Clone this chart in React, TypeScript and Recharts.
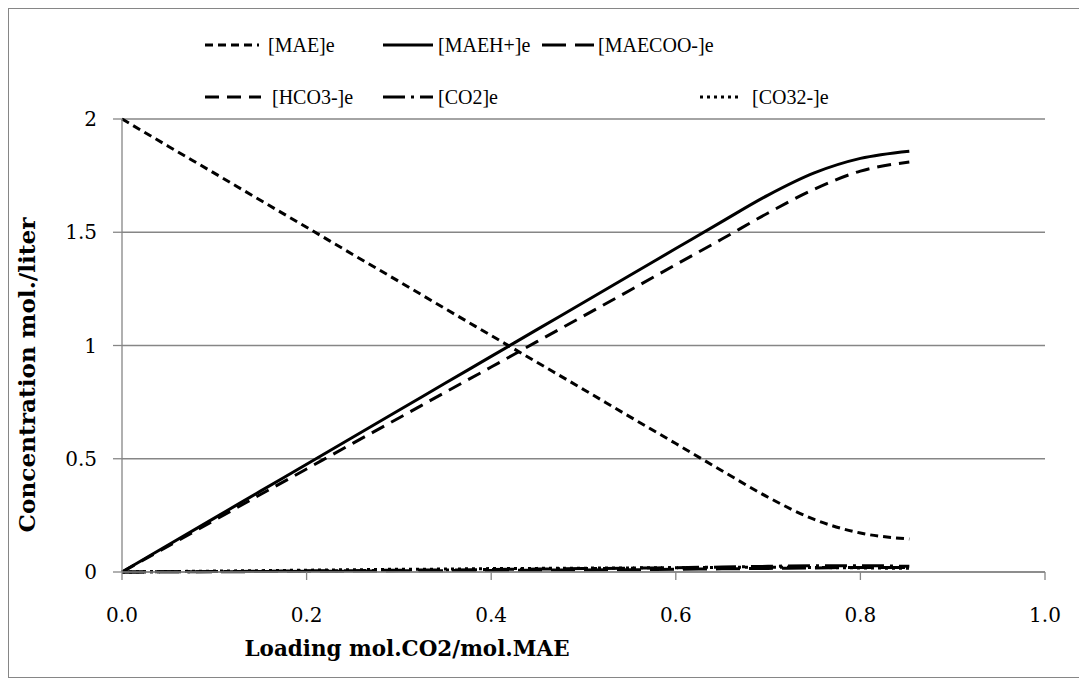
import React from 'react';
import { LineChart, Line, XAxis, YAxis, CartesianGrid } from 'recharts';

// Equilibrium speciation of a 2 M MAE solution versus CO2 loading
const loading = [0, 0.05, 0.1, 0.15, 0.2, 0.25, 0.3, 0.35, 0.4, 0.45, 0.5, 0.55, 0.6, 0.65, 0.7, 0.75, 0.8, 0.853];
const maeFree = [2, 1.88, 1.761, 1.641, 1.522, 1.402, 1.283, 1.163, 1.044, 0.925, 0.806, 0.686, 0.567, 0.447, 0.33, 0.232, 0.172, 0.146];
const maeH = [0, 0.119, 0.238, 0.357, 0.476, 0.595, 0.714, 0.833, 0.952, 1.071, 1.19, 1.309, 1.428, 1.547, 1.664, 1.762, 1.826, 1.858];
const maeCoo = [0, 0.001, 0.001, 0.002, 0.003, 0.004, 0.005, 0.006, 0.007, 0.008, 0.009, 0.01, 0.012, 0.014, 0.016, 0.018, 0.02, 0.02];
const hco3 = [0, 0.114, 0.228, 0.342, 0.455, 0.568, 0.68, 0.793, 0.905, 1.018, 1.13, 1.243, 1.357, 1.47, 1.585, 1.69, 1.77, 1.81];
const co2 = [0, 0.001, 0.002, 0.003, 0.005, 0.006, 0.008, 0.009, 0.011, 0.013, 0.015, 0.017, 0.019, 0.022, 0.025, 0.028, 0.028, 0.025];
const co3 = [0, 0.002, 0.004, 0.006, 0.008, 0.01, 0.012, 0.013, 0.015, 0.016, 0.017, 0.018, 0.019, 0.02, 0.021, 0.02, 0.018, 0.016];

const xTicks = [0, 0.2, 0.4, 0.6, 0.8, 1.0];
const yTicks = [0, 0.5, 1, 1.5, 2];

const data = loading.map((x, i) => ({
  x,
  mae: maeFree[i],
  maeh: maeH[i],
  maecoo: maeCoo[i],
  hco3: hco3[i],
  co2: co2[i],
  co3: co3[i],
}));

const FONT = '"DejaVu Serif", serif';
const LEGEND_FONT = '"Liberation Serif", serif';
const GREY = '#868686';

type SeriesDef = { key: string; name: string; dash?: string; width: number };

const series: SeriesDef[] = [
  { key: 'mae', name: '[MAE]e', dash: '8 5', width: 3 },
  { key: 'maeh', name: '[MAEH+]e', width: 3 },
  { key: 'maecoo', name: '[MAECOO-]e', dash: '24 9', width: 3 },
  { key: 'hco3', name: '[HCO3-]e', dash: '14 8', width: 3 },
  { key: 'co2', name: '[CO2]e', dash: '22 6 3 6', width: 3 },
  { key: 'co3', name: '[CO32-]e', dash: '3 4', width: 3 },
];

// legend entry placement inside the frame: sample start, sample length, label start, row centre
const legendSampleX = [196, 374, 533, 196, 374, 691];
const legendSampleLen = [54, 50, 52, 56, 50, 42];
const legendTextX = [259, 429, 589, 263, 429, 743];
const legendRowY = [36, 88];
const legendRowOf = [0, 0, 0, 1, 1, 1];

function LegendItem({ s, i }: { s: SeriesDef; i: number }) {
  const y = legendRowY[legendRowOf[i]];
  return (
    <>
      <svg
        width={legendSampleLen[i] + 2}
        height={10}
        style={{ position: 'absolute', left: legendSampleX[i], top: y - 5, display: 'block' }}
      >
        <line x1={0} y1={5} x2={legendSampleLen[i]} y2={5} stroke="#000" strokeWidth={s.width} strokeDasharray={s.dash} />
      </svg>
      <div
        style={{
          position: 'absolute',
          left: legendTextX[i],
          top: y - 14,
          height: 28,
          lineHeight: '28px',
          fontFamily: LEGEND_FONT,
          fontSize: 20,
          color: '#000',
          whiteSpace: 'nowrap',
        }}
      >
        {s.name}
      </div>
    </>
  );
}

export default function App() {
  return (
    <div
      style={{
        position: 'relative',
        width: 1078,
        height: 670,
        border: `1px solid ${GREY}`,
        boxSizing: 'border-box',
        background: '#fff',
      }}
    >
      <LineChart
        width={1076}
        height={668}
        data={data}
        margin={{ top: 110, right: 40, bottom: 45, left: 13 }}
      >
        <CartesianGrid horizontal vertical={false} stroke={GREY} strokeWidth={1.3} />
        <XAxis
          dataKey="x"
          type="number"
          domain={[0, 1]}
          ticks={xTicks}
          tickFormatter={(v: number) => v.toFixed(1)}
          height={60}
          tickSize={8}
          tickMargin={28}
          axisLine={{ stroke: GREY, strokeWidth: 1.3 }}
          tickLine={{ stroke: GREY, strokeWidth: 1.3 }}
          tick={{ fill: '#000', fontFamily: FONT, fontSize: 20 }}
          interval={0}
        />
        <YAxis
          type="number"
          domain={[0, 2]}
          ticks={yTicks}
          tickFormatter={(v: number) => String(v)}
          width={100}
          tickSize={9}
          tickMargin={16}
          axisLine={{ stroke: GREY, strokeWidth: 1.3 }}
          tickLine={{ stroke: GREY, strokeWidth: 1.3 }}
          tick={{ fill: '#000', fontFamily: FONT, fontSize: 20 }}
          interval={0}
        />
        {series.map((s) => (
          <Line
            key={s.key}
            dataKey={s.key}
            name={s.name}
            type="monotone"
            stroke="#000"
            strokeWidth={s.width}
            strokeDasharray={s.dash}
            dot={false}
            activeDot={false}
            isAnimationActive={false}
          />
        ))}
      </LineChart>

      {series.map((s, i) => (
        <LegendItem key={s.key} s={s} i={i} />
      ))}

      <svg
        width={1076}
        height={668}
        style={{ position: 'absolute', left: 0, top: 0, pointerEvents: 'none' }}
      >
        <text
          x={398}
          y={641}
          textAnchor="middle"
          dominantBaseline="middle"
          fontFamily={FONT}
          fontWeight="bold"
          fontSize={23}
          textLength={325}
          lengthAdjust="spacingAndGlyphs"
        >
          Loading mol.CO2/mol.MAE
        </text>
        <text
          x={0}
          y={0}
          transform="translate(20 366) rotate(-90)"
          textAnchor="middle"
          dominantBaseline="middle"
          fontFamily={FONT}
          fontWeight="bold"
          fontSize={23}
          textLength={315}
          lengthAdjust="spacingAndGlyphs"
        >
          Concentration mol./liter
        </text>
      </svg>
    </div>
  );
}
